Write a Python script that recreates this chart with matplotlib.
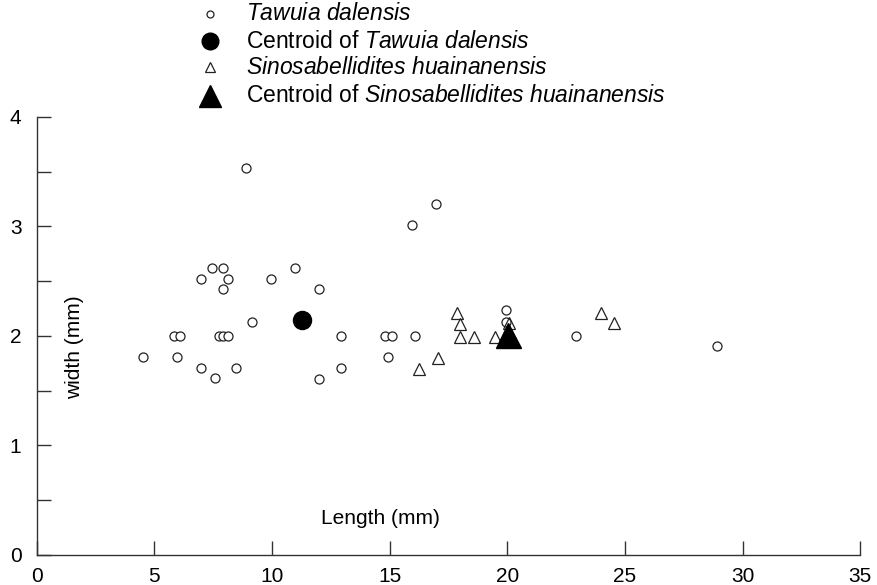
import matplotlib
matplotlib.use("Agg")
import matplotlib.pyplot as plt
from matplotlib.lines import Line2D

plt.rcParams['font.family'] = ['Liberation Sans', 'DejaVu Sans']
plt.rcParams['mathtext.fontset'] = 'custom'
plt.rcParams['mathtext.rm'] = 'Liberation Sans'
plt.rcParams['mathtext.it'] = 'Liberation Sans:italic'

# Tawuia dalensis (length, width in mm)
tawuia_len = [4.5, 5.85, 6.08, 5.98, 6.97, 7.45, 7.9, 8.12, 7.9, 6.97, 7.56, 7.76, 7.93, 8.15,
              8.48, 8.91, 9.15, 9.96, 10.97, 11.99, 12.92, 16.98, 15.97, 14.82, 15.08, 16.09,
              14.95, 12.92, 11.99, 19.95, 19.95, 22.9, 28.9]
tawuia_wid = [1.81, 2.0, 2.0, 1.81, 2.52, 2.62, 2.62, 2.52, 2.43, 1.71, 1.62, 2.0, 2.0, 2.0,
              1.71, 3.53, 2.13, 2.52, 2.62, 2.43, 2.0, 3.21, 3.01, 2.0, 2.0, 2.0,
              1.81, 1.71, 1.61, 2.24, 2.13, 2.0, 1.91]
tawuia_centroid = (11.26, 2.15)

# Sinosabellidites huainanensis
sino_len = [17.87, 17.99, 17.99, 18.59, 19.47, 17.04, 16.26, 20.06, 24.0, 24.55]
sino_wid = [2.21, 2.11, 1.99, 1.99, 1.99, 1.80, 1.70, 2.12, 2.21, 2.12]
sino_centroid = (20.03, 2.01)

legend_labels = [r'$\it{Tawuia\ dalensis}$',
                 r'Centroid of $\it{Tawuia\ dalensis}$',
                 r'$\it{Sinosabellidites\ huainanensis}$',
                 r'Centroid of $\it{Sinosabellidites\ huainanensis}$']

fig = plt.figure(figsize=(8.78, 5.85), dpi=100)
ax = fig.add_axes([0.0418, 0.0513, 0.9380, 0.7487])

ink = '#222222'
ax.plot(tawuia_len, tawuia_wid, 'o', ms=6.5, mfc='white', mec=ink, mew=0.9, ls='none', clip_on=False)
ax.plot(sino_len, sino_wid, '^', ms=8, mfc='none', mec=ink, mew=0.9, ls='none', clip_on=False)
ax.plot(*tawuia_centroid, 'o', ms=13, color='black', clip_on=False)
ax.plot(*sino_centroid, '^', ms=18, color='black', clip_on=False)

ax.set_xlim(0, 35)
ax.set_ylim(0, 4)
ax.set_xticks(range(0, 36, 5))
ax.set_yticks(range(0, 5))
ax.set_yticks([0.5, 1.5, 2.5, 3.5], minor=True)
for s in ['top', 'right']:
    ax.spines[s].set_visible(False)
for s in ['left', 'bottom']:
    ax.spines[s].set_color('#333333')
    ax.spines[s].set_linewidth(1.0)
ax.tick_params(axis='both', which='both', direction='in', length=10, width=1.0,
               color='#333333', labelsize=15)
ax.tick_params(axis='x', pad=9)
ax.tick_params(axis='y', pad=11)

ax.text(14.6, 0.33, 'Length (mm)', fontsize=15, ha='center', va='center')
ax.text(1.6, 1.9, 'width (mm)', fontsize=15, rotation=90, ha='center', va='center')

# legend above the axes
W, H = 878, 585
rows_y = [14, 41, 67, 96]
styles = [dict(marker='o', ms=5, mfc='white', mec=ink, mew=0.9),
          dict(marker='o', ms=12, color='black'),
          dict(marker='^', ms=7, mfc='white', mec=ink, mew=0.9),
          dict(marker='^', ms=16, color='black')]
for y, st, lab in zip(rows_y, styles, legend_labels):
    fig.add_artist(Line2D([210 / W], [1 - y / H], transform=fig.transFigure, ls='none', **st))
    fig.text(246 / W, 1 - y / H, lab, fontsize=16.5, ha='left', va='center')

fig.savefig('out.png', dpi=100)
